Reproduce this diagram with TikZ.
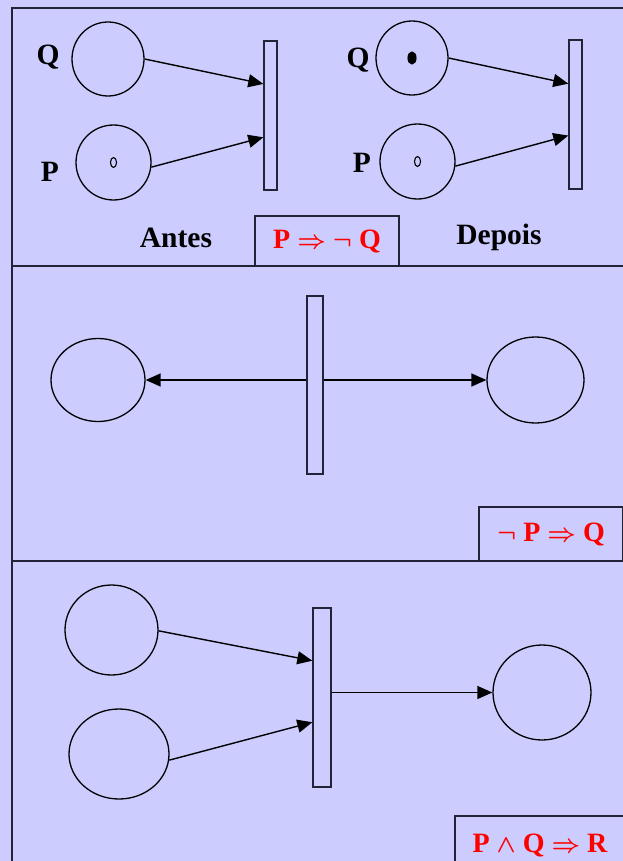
\documentclass[tikz,border=0pt]{standalone}
\usepackage{fontspec}
\setmainfont{Liberation Serif}
\usetikzlibrary{positioning,arrows.meta,shapes.geometric,calc}
\definecolor{petriBg}{RGB}{204,204,255}
\definecolor{petriLine}{RGB}{35,35,55}
\definecolor{petriRed}{RGB}{255,0,0}

\begin{document}
\begin{tikzpicture}[x=1pt,y=-1pt,
      place/.style={draw=black,ellipse,line width=1.3pt,inner sep=0pt},
      bar/.style={draw=petriLine,fill=petriBg,line width=1.4pt,inner sep=0pt},
      arc/.style={-{Triangle[length=15pt,width=13pt]},line width=1.4pt},
      token/.style={draw=black,ellipse,line width=1.1pt,minimum width=6pt,minimum height=10pt,inner sep=0pt},
      lbl/.style={inner sep=0pt,font=\fontsize{29.5}{34}\selectfont\bfseries},
      rule/.style={draw=petriLine,fill=petriBg,line width=1.5pt,text=petriRed,inner sep=0pt,font=\fontsize{28}{32}\selectfont\bfseries\boldmath}]
    \fill[petriBg] (0,0) rectangle (623,861);
    \useasboundingbox (0,0) rectangle (623,861);
    \clip (0,0) rectangle (623,861);
    % frame of the three panels
    \draw[petriLine,line width=2pt] (12,880) -- (12,8) -- (640,8);
    \draw[petriLine,line width=2pt] (12,266) -- (640,266);
    \draw[petriLine,line width=2pt] (12,561) -- (640,561);

    % panel 1: antes
    \node[place,minimum width=72pt,minimum height=74pt] (q1) at (108,59) {};
    \node[place,minimum width=75pt,minimum height=75pt] (p1) at (113.5,162.5) {};
    \node[lbl] (lq1) at (48,57) {Q};
    \node[lbl] (lp1) at (50,172) {P};
    \node[token] (k1) at (p1) {};
    \node[bar,minimum width=13pt,minimum height=149pt] (t1) at (270.5,115.5) {};
    \coordinate (t1a) at ($(t1.north west)!.29!(t1.south west)$);
    \coordinate (t1b) at ($(t1.north west)!.645!(t1.south west)$);
    \draw[arc] (q1.east) -- (t1a);
    \draw[arc] (p1.-7) -- (t1b);
    \node[lbl] (antes) at (176,238) {Antes};

    % panel 1: depois
    \node[place,minimum width=72pt,minimum height=74pt] (q2) at (412,58) {};
    \node[place,minimum width=75pt,minimum height=75pt] (p2) at (417.5,161.5) {};
    \node[lbl] (lq2) at (358,60) {Q};
    \node[lbl] (lp2) at (362,163) {P};
    \node[token] (k2) at (p2) {};
    \node[token,fill=black,minimum width=8pt,minimum height=12pt] (k3) at (q2) {};
    \node[bar,minimum width=13pt,minimum height=149pt] (t2) at (575.5,114.5) {};
    \coordinate (t2a) at ($(t2.north west)!.295!(t2.south west)$);
    \coordinate (t2b) at ($(t2.north west)!.64!(t2.south west)$);
    \draw[arc] (q2.east) -- (t2a);
    \draw[arc] (p2.-7) -- (t2b);
    \node[lbl] (depois) at (499,237) {Depois};
    \node[rule,minimum width=144pt,minimum height=50pt] (r1) at (327,241) {P $\Rightarrow$ $\neg$ Q};

    % panel 2
    \node[bar,minimum width=16pt,minimum height=178pt] (t3) at (315,385) {};
    \node[place,minimum width=94pt,minimum height=83pt] (p3) at (98,380) {};
    \node[place,minimum width=97pt,minimum height=86pt] (q3) at (535.5,380) {};
    \draw[arc] (t3.west |- p3.east) -- (p3.east);
    \draw[arc] (t3.east |- q3.west) -- (q3.west);
    \node[rule,minimum width=144pt,minimum height=54pt] (r2) at (551,534) {$\neg$ P $\Rightarrow$ Q};

    % panel 3
    \node[place,minimum width=93pt,minimum height=90pt] (p4) at (111.5,630) {};
    \node[place,minimum width=100pt,minimum height=90pt] (q4) at (119,754) {};
    \node[bar,minimum width=18pt,minimum height=179pt] (t4) at (322,697.5) {};
    \node[place,minimum width=98pt,minimum height=95pt] (s4) at (542,692.5) {};
    \coordinate (t4a) at ($(t4.north west)!.296!(t4.south west)$);
    \coordinate (t4b) at ($(t4.north west)!.637!(t4.south west)$);
    \draw[arc] (p4.-1) -- (t4a);
    \draw[arc] (q4.-7) -- (t4b);
    \draw[arc] (t4.east |- s4.west) -- (s4.west);
    \node[rule,minimum width=170pt,minimum height=58pt] (r3) at (540,845) {P $\wedge$ Q $\Rightarrow$ R};
  \end{tikzpicture}
\end{document}
